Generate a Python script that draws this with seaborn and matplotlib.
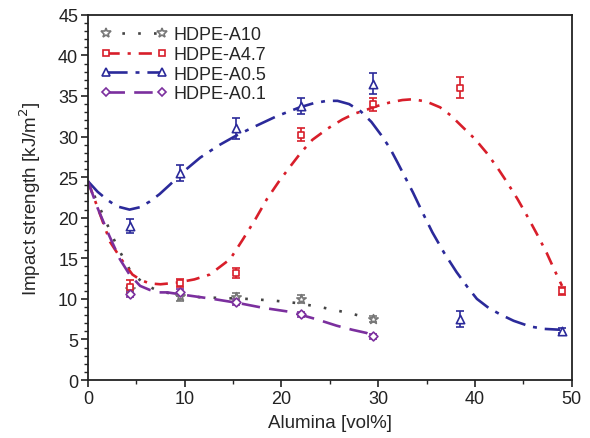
import numpy as np
import pandas as pd
import matplotlib
matplotlib.use("Agg")
import matplotlib.pyplot as plt
import seaborn as sns
from matplotlib.ticker import MultipleLocator
from matplotlib.lines import Line2D

sns.set_theme(style="ticks")
plt.rcParams['font.family'] = ['Liberation Sans', 'DejaVu Sans']

# measured points
x_a10 = [4.3, 9.5, 15.3, 22.0, 29.5]
y_a10 = [11.2, 10.3, 10.2, 10.0, 7.5]
e_a10 = [0.4, 0.5, 0.5, 0.5, 0.4]

x_a47 = [4.3, 9.5, 15.3, 22.0, 29.5, 38.5, 49.0]
y_a47 = [11.5, 12.0, 13.2, 30.2, 34.0, 36.0, 11.0]
e_a47 = [0.8, 0.5, 0.6, 0.8, 0.8, 1.3, 0.5]

x_a05 = [4.3, 9.5, 15.3, 22.0, 29.5, 38.5, 49.0]
y_a05 = [19.0, 25.5, 31.0, 33.8, 36.5, 7.5, 6.1]
e_a05 = [0.9, 1.0, 1.3, 1.0, 1.3, 1.0, 0.3]

x_a01 = [4.3, 9.5, 15.3, 22.0, 29.5]
y_a01 = [10.6, 10.8, 9.6, 8.1, 5.4]
e_a01 = [0.4, 0.4, 0.4, 0.3, 0.3]

# fitted curves
cx_a10 = [0, 1.5, 3.0, 4.5, 6.0, 7.4, 9.5, 11.6, 14.0, 16.4, 19.1, 21.5, 24.0, 26.0, 27.5, 29.5]
cy_a10 = [24.5, 20.5, 16.5, 13.2, 11.7, 10.9, 10.5, 10.2, 10.1, 10.0, 9.8, 9.5, 9.0, 8.5, 8.1, 7.5]

cx_a47 = [0, 1.2, 2.3, 3.5, 4.6, 5.5, 6.4, 7.5, 9.2, 11.0, 12.6, 14.7, 16.0, 17.3, 18.5, 19.7, 20.9, 22.0,
          23.2, 24.8, 26.3, 27.5, 28.8, 30.0, 31.2, 32.5, 33.6, 35.0, 36.4, 37.5, 38.7, 40.0, 41.2, 42.3,
          43.3, 44.4, 45.4, 46.4, 47.4, 48.2, 49.0]
cy_a47 = [24.5, 20.6, 17.0, 14.8, 13.0, 12.3, 11.9, 11.8, 12.0, 12.4, 13.0, 14.9, 17.3, 19.8, 22.3, 24.4, 26.3, 28.0,
          29.6, 31.0, 32.1, 32.8, 33.3, 33.8, 34.2, 34.5, 34.6, 34.3, 33.6, 32.6, 31.2, 29.7, 28.0, 26.2,
          24.4, 22.3, 20.2, 18.0, 15.7, 13.6, 11.6]

cx_a05 = [0, 1.0, 2.0, 3.0, 4.3, 5.4, 6.4, 7.4, 8.5, 10.0, 11.6, 13.5, 15.3, 17.0, 19.5, 21.9, 23.3, 24.7,
          25.8, 27.0, 28.2, 29.3, 30.3, 31.2, 32.0, 33.6, 34.6, 35.6, 36.8, 38.1, 39.2, 40.2, 41.4, 42.6, 44.0,
          45.7, 47.2, 48.8]
cy_a05 = [24.5, 23.2, 22.2, 21.4, 21.0, 21.3, 22.0, 22.9, 24.1, 25.8, 27.4, 28.9, 30.1, 31.1, 32.5, 33.6, 34.1, 34.4,
          34.4, 34.0, 33.1, 31.8, 30.2, 28.6, 26.8, 23.1, 20.6, 18.2, 15.7, 13.3, 11.5, 10.0, 8.9, 8.1, 7.3,
          6.6, 6.3, 6.2]

cx_a01 = [0, 1.0, 2.2, 3.3, 4.3, 5.4, 6.4, 7.4, 8.2, 10.5, 12.9, 15.5, 18.1, 20.9, 23.6, 25.7, 27.3, 28.8, 29.4]
cy_a01 = [24.5, 21.2, 17.8, 14.9, 13.0, 11.6, 11.1, 10.8, 10.8, 10.4, 10.0, 9.5, 8.9, 8.4, 7.5, 6.7, 6.2, 5.8, 5.4]

labels = ["HDPE-A10", "HDPE-A4.7", "HDPE-A0.5", "HDPE-A0.1"]

series = [
    dict(x=x_a10, y=y_a10, e=e_a10, cx=cx_a10, cy=cy_a10, color="#777777", lcolor="#444444",
         marker="*", ls=(0, (1, 5)), lw=1.9, ms=7),
    dict(x=x_a47, y=y_a47, e=e_a47, cx=cx_a47, cy=cy_a47, color="#d81e2a", lcolor="#d81e2a",
         marker="s", ls=(0, (5, 3, 1.2, 3)), lw=1.9, ms=4.5),
    dict(x=x_a05, y=y_a05, e=e_a05, cx=cx_a05, cy=cy_a05, color="#2b2a9a", lcolor="#2b2a9a",
         marker="^", ls=(0, (8, 3, 1.5, 3)), lw=1.9, ms=6),
    dict(x=x_a01, y=y_a01, e=e_a01, cx=cx_a01, cy=cy_a01, color="#7b2f9e", lcolor="#7b2f9e",
         marker="D", ls=(0, (7, 3.5)), lw=1.9, ms=4.5),
]

fig = plt.figure(figsize=(5.9, 4.39), dpi=100)
ax = fig.add_axes([0.149, 0.132, 0.82, 0.832])

handles = []
for lab, s in zip(labels, series):
    cdf = pd.DataFrame({"x": s["cx"], "y": s["cy"]})
    sns.lineplot(data=cdf, x="x", y="y", ax=ax, color=s["lcolor"], lw=s["lw"],
                 linestyle=s["ls"], sort=False, estimator=None, legend=False)
    ax.errorbar(s["x"], s["y"], yerr=s["e"], fmt="none", ecolor=s["color"],
                elinewidth=1.2, capsize=2.6, capthick=1.2, zorder=3)
    pdf = pd.DataFrame({"x": s["x"], "y": s["y"]})
    sns.scatterplot(data=pdf, x="x", y="y", ax=ax, marker=s["marker"], s=s["ms"] ** 2,
                    facecolor="white", edgecolor=s["color"], linewidth=1.2, zorder=4, legend=False)
    handles.append(Line2D([], [], color=s["lcolor"], lw=s["lw"], linestyle=s["ls"],
                          marker=s["marker"], markersize=s["ms"], markerfacecolor="white",
                          markeredgecolor=s["color"], markeredgewidth=1.2))

ax.set_xlim(0, 50)
ax.set_ylim(0, 45)
ax.xaxis.set_major_locator(MultipleLocator(10))
ax.xaxis.set_minor_locator(MultipleLocator(5))
ax.yaxis.set_major_locator(MultipleLocator(5))
ax.yaxis.set_minor_locator(MultipleLocator(1))
ax.tick_params(which="major", direction="out", length=5, width=1.2, labelsize=13, pad=2, colors="#222222")
ax.tick_params(which="minor", direction="out", length=3, width=1.0)
for sp in ax.spines.values():
    sp.set_linewidth(1.3)
    sp.set_color("#222222")

ax.set_xlabel("Alumina [vol%]", fontsize=13.5, labelpad=5)
ax.set_ylabel("Impact strength [kJ/m$^2$]", fontsize=13.5, labelpad=11)

leg = ax.legend(handles, labels, loc="upper left", frameon=False, fontsize=13,
                handlelength=3.7, numpoints=2, borderaxespad=0.3, labelspacing=0.15,
                handletextpad=0.35, bbox_to_anchor=(0.0, 1.003))

fig.savefig("out.png", dpi=100)
